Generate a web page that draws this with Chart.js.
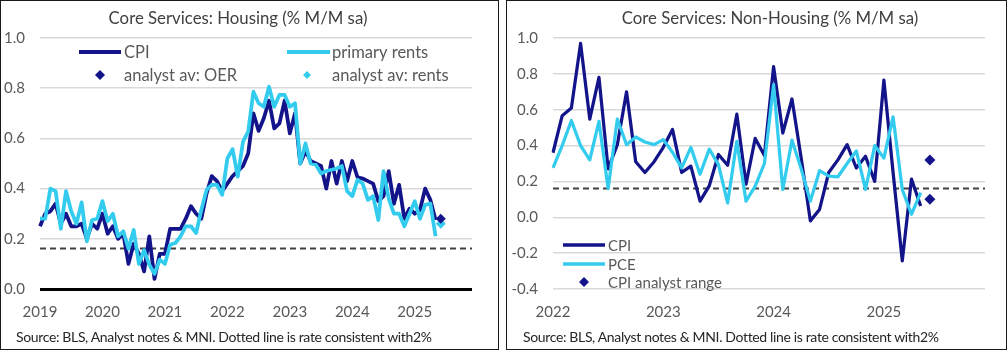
<!DOCTYPE html>
<html><head><meta charset="utf-8">
<script src="https://cdn.jsdelivr.net/npm/chart.js"></script>
<style>
body{margin:0;width:1008px;height:350px;background:#fff;position:relative;overflow:hidden;font-family:Lato,"Open Sans",sans-serif}
.box{position:absolute;border:1.5px solid #1a1a1a;box-sizing:border-box}
.title{position:absolute;top:8px;font-size:16.8px;line-height:19px;color:#404040;white-space:nowrap;transform:translateX(-50%)}
.src{position:absolute;top:329px;font-size:14px;line-height:16px;color:#262626;white-space:nowrap;letter-spacing:-0.35px}
canvas{position:absolute;top:0}
</style></head><body>
<div class="box" style="left:0;top:0;width:499px;height:350px"></div>
<div class="box" style="left:506px;top:0;width:501px;height:350px"></div>
<canvas id="c1" style="left:0;width:500px;height:350px"></canvas>
<canvas id="c2" style="left:505px;width:503px;height:350px"></canvas>
<div class="title" style="left:238px">Core Services: Housing (% M/M sa)</div>
<div class="title" style="left:770px">Core Services: Non-Housing (% M/M sa)</div>
<div class="src" style="left:16px">Source: BLS, Analyst notes &amp; MNI. Dotted line is rate consistent with2%</div>
<div class="src" style="left:523px">Source: BLS, Analyst notes &amp; MNI. Dotted line is rate consistent with2%</div>
<script>
// ---------- DATA ----------
const housingYears = ['2019','2020','2021','2022','2023','2024','2025'];
const nonHousingYears = ['2022','2023','2024','2025'];

// Housing: CPI (dark) Jan 2019 - May 2025, % M/M sa
const housingCPI = [
 0.25,0.30,0.31,0.34,0.26,0.30,0.25,0.25,0.26,0.20,0.26,0.24,
 0.30,0.22,0.25,0.20,0.22,0.10,0.18,0.14,0.07,0.21,0.04,0.14,
 0.14,0.24,0.24,0.24,0.28,0.33,0.30,0.28,0.38,0.45,0.43,0.39,
 0.42,0.45,0.47,0.49,0.54,0.70,0.63,0.68,0.75,0.64,0.66,0.75,
 0.62,0.70,0.50,0.55,0.51,0.50,0.49,0.40,0.51,0.42,0.51,0.43,
 0.51,0.445,0.44,0.43,0.42,0.35,0.37,0.47,0.34,0.415,0.28,0.32,
 0.30,0.315,0.40,0.355,0.275];
// Housing: primary rents (cyan)
const housingRents = [
 0.28,0.28,0.40,0.39,0.24,0.39,0.31,0.26,0.345,0.19,0.275,0.28,
 0.35,0.27,0.30,0.21,0.23,0.16,0.235,0.10,0.155,0.097,0.06,0.117,
 0.10,0.176,0.183,0.21,0.25,0.25,0.223,0.315,0.395,0.415,0.415,0.375,
 0.52,0.557,0.448,0.587,0.627,0.786,0.74,0.726,0.806,0.726,0.773,0.773,
 0.726,0.74,0.50,0.58,0.50,0.495,0.46,0.47,0.475,0.48,0.49,0.39,
 0.37,0.435,0.42,0.355,0.37,0.275,0.47,0.36,0.30,0.30,0.25,0.30,
 0.35,0.28,0.335,0.34,0.21];
const analystMonth = '2025-06';
const analystOER = 0.28;
const analystRents = 0.26;

// Non-housing: Jan 2022 - May 2025
const nonHousingCPI = [
 0.36,0.567,0.61,0.97,0.548,0.78,0.27,0.405,0.70,0.31,0.25,0.31,
 0.39,0.49,0.25,0.285,0.09,0.175,0.35,0.29,0.575,0.185,0.44,0.345,
 0.84,0.47,0.66,0.33,-0.02,0.044,0.25,0.32,0.405,0.275,0.34,0.20,
 0.765,0.25,-0.243,0.213,0.063];
const nonHousingPCE = [
 0.276,0.40,0.54,0.40,0.32,0.535,0.16,0.548,0.405,0.448,0.42,0.405,
 0.433,0.363,0.276,0.39,0.24,0.38,0.294,0.08,0.424,0.09,0.174,0.30,
 0.74,0.155,0.43,0.27,0.09,0.26,0.23,0.226,0.30,0.37,0.155,0.40,
 0.33,0.56,0.155,0.017,0.137];
const cpiAnalystRange = [0.32, 0.10];

const TARGET = 0.165; // M/M rate consistent with 2% annual

// ---------- STYLE ----------
const FONT = 'Lato, "Open Sans", sans-serif';
const NAVY = '#13138A';
const CYAN = '#33CCEE';
const TICK = '#595959';

function monthLabels(years){
  const out=[];
  years.forEach(y=>{for(let m=1;m<=12;m++) out.push(y+'-'+String(m).padStart(2,'0'));});
  return out;
}

const refLine = {
  id:'refLine',
  beforeDatasetsDraw(chart,args,opts){
    const {ctx,chartArea:{left,right},scales:{y}} = chart;
    const py = Math.round(y.getPixelForValue(opts.value))+0.5;
    ctx.save();
    ctx.strokeStyle='#404040'; ctx.lineWidth=2; ctx.setLineDash([6,4]);
    ctx.beginPath(); ctx.moveTo(left,py); ctx.lineTo(right,py); ctx.stroke();
    ctx.restore();
  }
};

function diamond(ctx,x,y,r,color){
  ctx.fillStyle=color; ctx.beginPath();
  ctx.moveTo(x,y-r); ctx.lineTo(x+r,y); ctx.lineTo(x,y+r); ctx.lineTo(x-r,y); ctx.closePath(); ctx.fill();
}

const boxLegend = {
  id:'boxLegend',
  afterDraw(chart,args,opts){
    const ctx=chart.ctx; ctx.save();
    ctx.font = opts.size+'px '+FONT; ctx.textBaseline='middle'; ctx.textAlign='left';
    opts.items.forEach(it=>{
      const ds=chart.data.datasets[it.dataset];
      if(it.kind==='line'){
        ctx.strokeStyle=ds.borderColor; ctx.lineWidth=it.w; ctx.lineCap='butt';
        ctx.beginPath(); ctx.moveTo(it.x,it.y); ctx.lineTo(it.x+it.len,it.y); ctx.stroke();
      } else {
        diamond(ctx,it.x,it.y,it.r,ds.backgroundColor);
      }
      ctx.fillStyle=TICK;
      ctx.fillText(ds.label,it.tx,it.y+1);
    });
    ctx.restore();
  }
};

function makeChart(id,cfg){
  const labels = monthLabels(cfg.years);
  return new Chart(document.getElementById(id),{
    type:'line',
    data:{labels, datasets:cfg.datasets},
    options:{
      responsive:false, animation:false,
      layout:{padding:cfg.padding},
      plugins:{legend:{display:false},tooltip:{enabled:false},
        refLine:{value:TARGET}, boxLegend:cfg.legend},
      elements:{line:{tension:0,borderJoinStyle:'round'},point:{radius:0}},
      scales:{
        x:{type:'category',offset:false,
          grid:{display:false,drawTicks:false},border:{display:false},
          ticks:{autoSkip:false,maxRotation:0,minRotation:0,padding:cfg.xPad,color:TICK,font:{family:FONT,size:15},
            callback:(v,i)=>labels[i].endsWith('-01')?labels[i].slice(0,4):''},
          afterFit:s=>{s.height=31;}},
        y:{min:cfg.min,max:cfg.max,
          grid:{drawTicks:false,
            color:c=>c.tick.value===0?'#000':'#D9D9D9',
            lineWidth:c=>c.tick.value===0?cfg.zeroW:1.5},
          border:{display:false},
          ticks:{stepSize:0.2,padding:15,color:TICK,font:{family:FONT,size:15},
            callback:v=>(Math.round(v*10)/10).toFixed(1)},
          afterFit:s=>{s.width=cfg.yW;}}
      }
    },
    plugins:[refLine,boxLegend]
  });
}

makeChart('c1',{
  years:housingYears, min:0, max:1.0, yW:40, xPad:14, zeroW:3,
  padding:{left:0,right:28,top:38,bottom:30},
  datasets:[
    {label:'analyst av: OER',data:[{x:analystMonth,y:analystOER}],showLine:false,pointStyle:'rectRot',pointRadius:5,backgroundColor:NAVY,borderWidth:0,order:0},
    {label:'analyst av: rents',data:[{x:analystMonth,y:analystRents}],showLine:false,pointStyle:'rectRot',pointRadius:5,backgroundColor:CYAN,borderWidth:0,order:0},
    {label:'primary rents',data:housingRents,borderColor:CYAN,borderWidth:3.75,order:1},
    {label:'CPI',data:housingCPI,borderColor:NAVY,borderWidth:3.75,order:2}
  ],
  legend:{size:16.5,items:[
    {dataset:3,kind:'line',x:79,len:42,w:4,y:52,tx:124},
    {dataset:2,kind:'line',x:287,len:43,w:4,y:52,tx:332},
    {dataset:0,kind:'dia',x:100,r:5,y:75,tx:124},
    {dataset:1,kind:'dia',x:307,r:4,y:75,tx:332}
  ]}
});

makeChart('c2',{
  years:nonHousingYears, min:-0.4, max:1.0, yW:48, xPad:14, zeroW:2.5,
  padding:{left:0,right:23,top:38,bottom:30},
  datasets:[
    {label:'CPI analyst range',data:cpiAnalystRange.map(v=>({x:analystMonth,y:v})),showLine:false,pointStyle:'rectRot',pointRadius:5.5,backgroundColor:NAVY,borderWidth:0,order:0},
    {label:'PCE',data:nonHousingPCE,borderColor:CYAN,borderWidth:3.25,order:1},
    {label:'CPI',data:nonHousingCPI,borderColor:NAVY,borderWidth:3.25,order:2}
  ],
  legend:{size:15,items:[
    {dataset:2,kind:'line',x:58,len:42,w:3.5,y:245,tx:103},
    {dataset:1,kind:'line',x:58,len:42,w:3.5,y:264,tx:103},
    {dataset:0,kind:'dia',x:79,r:5,y:282,tx:103}
  ]}
});
</script>
</body></html>
